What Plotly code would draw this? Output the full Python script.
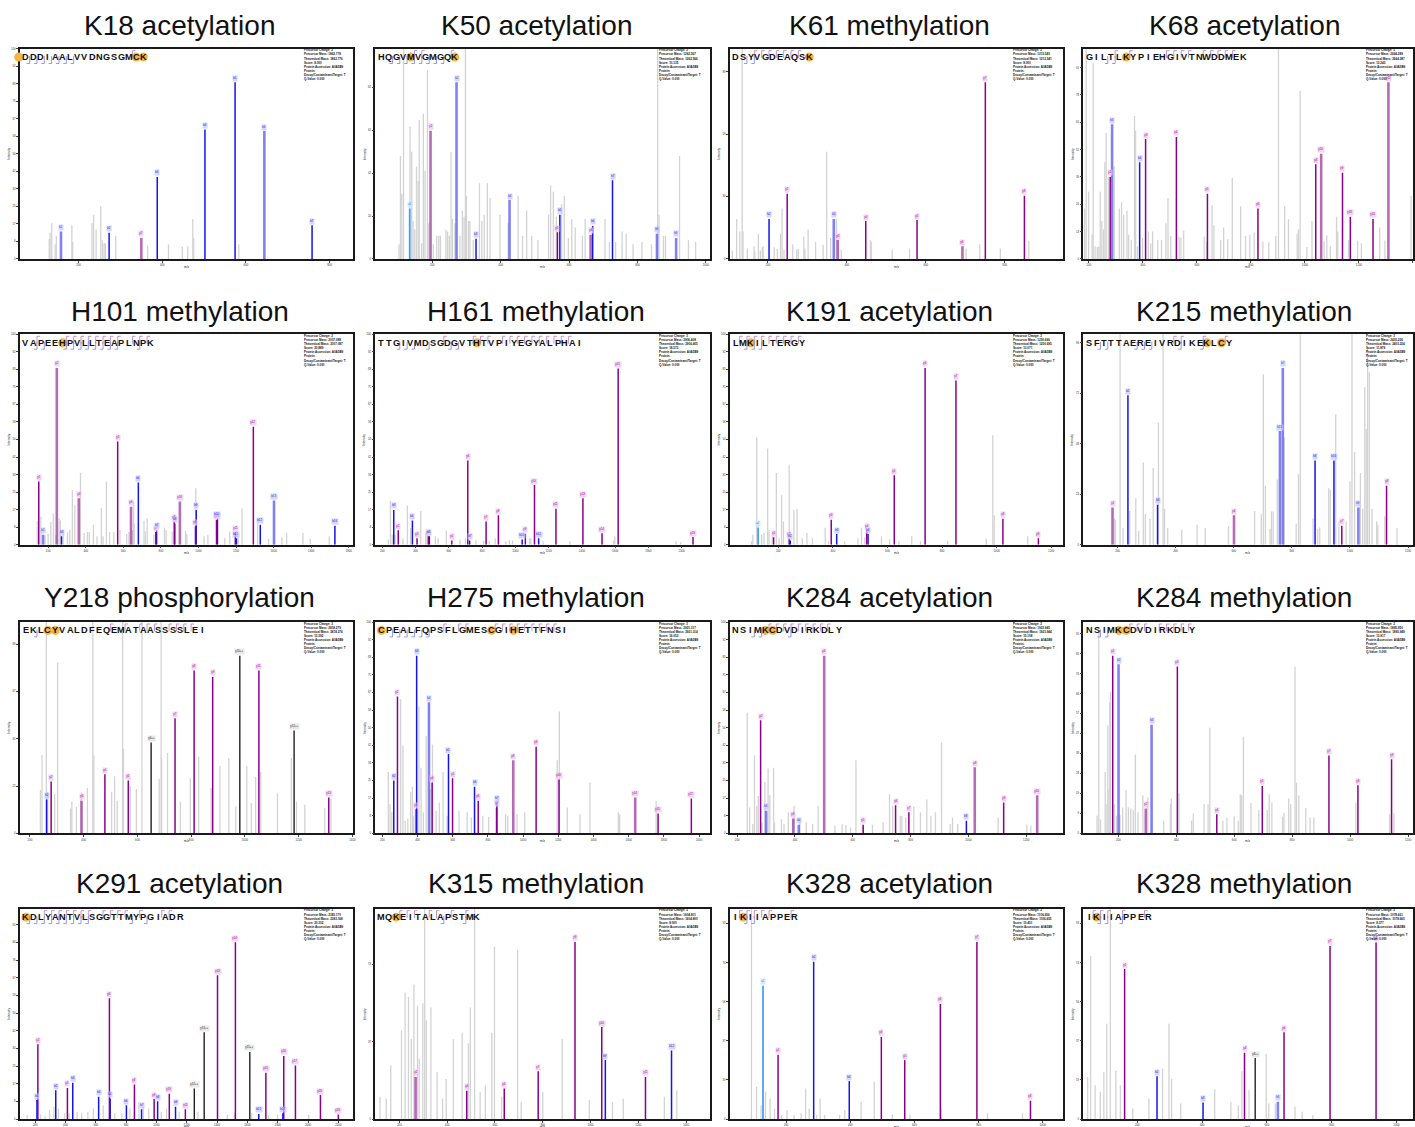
import re
import plotly.graph_objects as go

W, H = 1415, 1127

# ---------------- data ----------------
titles = ["K18 acetylation", "K50 acetylation", "K61 methylation", "K68 acetylation",
          "H101 methylation", "H161 methylation", "K191 acetylation", "K215 methylation",
          "Y218 phosphorylation", "H275 methylation", "K284 acetylation", "K284 methylation",
          "K291 acetylation", "K315 methylation", "K328 acetylation", "K328 methylation"]
peptides = ["DDDIAALVVDNGSGMCK", "HQGVMVGMGQK", "DSYVGDEAQSK", "GILTLKYPIEHGIVTNWDDMEK",
            "VAPEEHPVLLTEAPLNPK", "TTGIVMDSGDGVTHTVPIYEGYALPHAI", "LMKILTERGY", "SFTTTAEREIVRDIKEKLCY",
            "EKLCYVALDFEQEMATAASSSSLEI", "CPEALFQPSFLGMESCGIHETTFNSI", "NSIMKCDVDIRKDLY", "NSIMKCDVDIRKDLY",
            "KDLYANTVLSGGTTMYPGIADR", "MQKEITALAPSTMK", "IKIIAPPER", "IKIIAPPER"]
mod_sites = [[-1, 15, 16], [4, 10], [10], [5], [5], [13], [2], [16, 18],
             [3, 4], [0, 15, 18], [4, 5], [4, 5], [0], [2], [1], [1]]
mz_ranges = [[60, 857], [34, 1012], [104, 949], [180, 1400], [50, 1825], [159, 2170], [23, 1245], [83, 1217],
             [163, 1404], [161, 2062], [175, 1329], [80, 1217], [100, 2300], [100, 1500], [25, 1065], [34, 1051]]
int_dticks = [8.333, 20.4, 29.7, 13, 8.333, 8.333, 8.333, 24, 22.37, 8.333, 8.333, 9.45, 8.4, 36.8, 18.6, 18.6]

prec_charge = [2, 2, 2, 3, 2, 3, 2, 3, 3, 3, 2, 2, 3, 2, 2, 2]
prec_mass = ["1862.778", "1262.567", "1213.540", "2664.289", "2007.088", "2906.408", "1250.696", "2403.226",
             "2818.279", "2921.317", "1923.945", "1895.950", "2383.170", "1604.801", "1106.656", "1078.661"]
theo_mass = ["1862.776", "1262.566", "1213.541", "2664.287", "2007.087", "2906.405", "1250.695", "2403.224",
             "2818.276", "2921.314", "1923.944", "1895.949", "2383.168", "1604.800", "1106.655", "1078.660"]
scores = ["8.000", "10.135", "8.000", "13.245", "20.889", "18.572", "13.071", "11.879",
          "13.392", "16.053", "15.108", "13.917", "20.302", "8.000", "10.451", "8.377"]

# grey (unassigned) peaks and annotated fragment ions, m/z and relative intensity (%)
p01_grey_mz = [130, 132, 136, 144, 147, 184, 186, 232, 236, 242, 253, 257, 261, 264, 289, 365, 415, 448, 461, 473, 475, 583]
p01_grey_int = [9.6, 12.5, 17, 7, 11, 16, 8, 17, 21, 14, 25, 9, 7.5, 7.5, 11, 6.4, 7, 5.8, 6, 19, 10, 7]
p01_ion_mz = [158, 273, 350, 388, 502, 574, 644, 758]
p01_ion_int = [13, 12.5, 10, 39, 61.6, 84, 60.8, 16]
p01_ion_lab = ["b1*", "b2", "y2*", "b3", "b4", "b5", "b6*", "b7"]

p02_grey_mz = [103, 107, 111, 116, 135, 140, 144, 149, 154, 159, 162, 169, 174, 179, 186, 190, 203, 213, 219, 224,
               240, 245, 250, 255, 259, 266, 281, 288, 293, 297, 300, 306, 310, 320, 338, 345, 352, 361, 369, 398,
               422, 451, 464, 476, 491, 509, 540, 546, 554, 563, 578, 586, 598, 608, 618, 639, 647, 705, 718, 736,
               755, 767, 787, 813, 841, 859, 863, 876, 882, 923, 949, 970]
p02_grey_int = [7, 49, 31, 120, 63, 51, 18, 14, 44, 37, 66, 7.5, 69, 42, 90, 17, 7, 11, 11, 11,
                14, 13, 11, 51, 19, 17, 11, 23, 20, 120, 30, 18, 18, 9, 36, 18, 21, 36, 29, 21,
                17, 30, 11, 23, 11, 9, 21, 35, 32, 20, 26, 30, 10, 19, 15, 11, 19, 19, 8, 8,
                13, 12, 7, 8, 7, 120, 21, 11, 11, 49, 9, 8]
p02_ion_mz = [134, 195, 271, 328, 426, 566, 573, 663, 669, 727, 857, 913]
p02_ion_int = [24, 61, 84, 9.6, 28, 12.7, 21, 11.5, 15.7, 37.4, 12, 10]
p02_ion_lab = ["a1", "y1*", "b2*", "b3", "b4*", "y5", "b5", "y6*", "b6", "b7", "b8*", "b9*"]

p03_grey_mz = [110, 121, 129, 135, 137, 148, 165, 167, 176, 181, 186, 188, 216, 224, 232, 236, 241, 263, 273, 277,
               291, 294, 302, 321, 340, 349, 359, 374, 386, 460, 462, 515, 559, 702, 737, 789, 861]
p03_grey_int = [4, 19, 13, 120, 13, 5, 6, 3.5, 12, 4, 5.7, 6, 5.5, 4.7, 12, 24, 4.4, 7, 4.4, 4.7,
                10.7, 5, 14, 8, 6.8, 51, 10, 19, 4.4, 9, 8, 4.4, 5, 5, 7, 5, 8.5]
p03_ion_mz = [203, 249, 367, 377, 448, 578, 693, 751, 850]
p03_ion_int = [19, 31, 19, 9, 18, 18.5, 6, 84, 30]
p03_ion_lab = ["b2", "y2", "b3*", "y3*", "y4", "y5", "y6*", "y7", "y8"]

p04_grey_mz = [184, 190, 199, 212, 216, 223, 231, 237, 242, 248, 254, 259, 264, 272, 294, 313, 321, 329, 341, 347,
               357, 369, 373, 380, 399, 420, 429, 436, 455, 469, 485, 493, 503, 534, 541, 551, 627, 636, 656, 663,
               688, 699, 714, 731, 762, 780, 796, 812, 844, 866, 892, 902, 925, 939, 971, 976, 982, 1007, 1026,
               1071, 1081, 1094, 1117, 1121, 1161, 1195, 1209, 1277, 1296, 1393]
p04_grey_int = [24, 120, 32, 11.5, 93, 6, 5.7, 6, 32, 18, 14, 46, 60, 39, 44, 24, 27, 21, 23, 11.5,
                9, 68, 61, 6, 10, 13, 7.5, 13, 9, 9, 17, 29, 11, 10.5, 10, 13.5, 10.7, 8.3, 25.5, 16,
                9, 15, 9.4, 38.5, 25, 11, 11.5, 12.6, 8.3, 7.9, 11, 120, 25, 19, 12, 14, 80, 5.7, 18,
                8.3, 11.3, 6, 20, 13, 9, 8.7, 7.5, 15, 8.8, 30]
p04_ion_mz = [279, 286, 388, 410, 524, 639, 826, 1040, 1060, 1139, 1168, 1252, 1309]
p04_ion_int = [39, 64, 46, 57, 58, 31, 24, 45, 50, 41, 20, 19, 84]
p04_ion_lab = ["y2", "b3*", "b4", "y3", "y4", "y5", "y6", "y8", "y16*", "y9", "y18", "y10", "y11*"]

p05_grey_mz = [142, 161, 184, 200, 214, 228, 241, 258, 265, 280, 303, 315, 329, 342, 372, 391, 409, 419, 441, 460,
               483, 492, 510, 527, 549, 582, 618, 630, 648, 655, 658, 710, 717, 727, 763, 819, 828, 860, 931, 938,
               986, 1030, 1050, 1140, 1166, 1212, 1232, 1315, 1373, 1444, 1469, 1556, 1595, 1696]
p05_grey_int = [11.3, 13.4, 4.4, 5, 10.7, 14.8, 4.4, 12.6, 11.5, 4.7, 6, 7, 26, 18.6, 34, 5.5, 6, 6, 9.4, 4,
                17.3, 4, 30, 6, 6, 7, 5, 6, 7, 20.5, 10, 11.3, 6.3, 12.6, 4.7, 8, 6.9, 6.3, 6.6, 5.2,
                26.8, 4, 4.7, 3, 6.3, 4, 17.3, 10.2, 2.8, 3.5, 5.5, 5.5, 2.8, 4]
p05_ion_mz = [150, 173, 246, 271, 363, 570, 641, 680, 773, 777, 871, 874, 901, 984, 988, 1096, 1101, 1196, 1202,
              1292, 1329, 1402, 1726]
p05_ion_int = [30, 4.7, 84, 4, 22, 49, 18, 29.5, 6, 7, 11, 10, 20.5, 8.7, 16.5, 11.7, 12.3, 6, 3, 56, 9.4, 21, 9]
p05_ion_lab = ["y1", "b2*", "y2*", "b3", "y3*", "y5", "y6*", "b6", "y7", "b7", "y8", "b8", "y16*", "y9", "b9",
               "y10", "b10", "y11", "b11", "y12", "b12", "b13*", "b16"]

p06_grey_mz = [236, 249, 260, 277, 324, 351, 370, 431, 461, 469, 519, 535, 585, 667, 700, 763, 810, 843, 879, 942,
               964, 983, 1085, 1093, 1167, 1329, 1590, 1598, 1966, 1994]
p06_grey_int = [2.4, 20.8, 4.7, 4.7, 3, 18.6, 7.9, 16, 5.5, 6, 4, 3, 6.6, 2.4, 3, 2, 1.9, 1.6, 3, 1.6,
                2.2, 2, 3, 3, 1.6, 1.6, 2, 4, 1.6, 1.3]
p06_ion_mz = [269, 296, 381, 409, 477, 483, 618, 714, 725, 824, 898, 1041, 1060, 1115, 1140, 1244, 1406, 1521,
              1618, 2068]
p06_ion_int = [16.5, 6.8, 11.5, 3, 4, 4, 2, 40, 2, 11, 14, 2.4, 5.2, 28.3, 3, 17, 22, 5.4, 83.8, 3.6]
p06_ion_lab = ["b3", "y2", "b4", "y3", "y4", "b5", "y5", "y6", "b7", "y7", "y8", "b10", "y9", "y10", "b11",
               "y11", "y13", "y14", "y15", "y19"]

p07_grey_mz = [102, 107, 121, 127, 139, 148, 161, 166, 178, 193, 203, 212, 219, 240, 257, 269, 288, 305, 325, 372,
               384, 443, 492, 505, 517, 578, 608, 642, 689, 721, 821, 962, 986, 991, 1114]
p07_grey_int = [1.6, 4.7, 51, 10, 4.7, 5.5, 45.7, 7, 4, 34, 3, 23.6, 11, 38, 16.5, 17, 3, 5.5, 3, 8,
                1.6, 1.6, 3, 8, 3.5, 4, 2.4, 1.6, 4, 1.6, 1.9, 2.8, 52, 14, 4]
p07_ion_mz = [126, 183, 240, 244, 394, 414, 524, 529, 625, 738, 851, 1023, 1153]
p07_ion_int = [8, 3.5, 2.8, 2, 11.8, 5, 6.6, 5, 33, 84, 78, 12.3, 3]
p07_ion_lab = ["a1", "y1", "y2", "b2", "y3", "b3", "y4", "b4", "y5", "y6", "y7", "y8", "y9"]

p08_grey_mz = [189, 193, 209, 219, 242, 263, 273, 289, 296, 312, 323, 341, 357, 362, 373, 421, 474, 502, 582, 672,
               695, 702, 709, 725, 730, 736, 750, 774, 815, 823, 829, 873, 889, 896, 927, 932, 951, 962, 987, 1000,
               1007, 1016, 1036, 1044, 1051, 1056, 1061, 1067, 1076, 1092, 1096, 1120, 1162]
p08_grey_int = [12.6, 11.8, 120, 7.9, 16, 22, 6.6, 39, 14.6, 12.4, 36.5, 58, 120, 17, 7.9, 7.1, 9.4, 7.9, 8.7, 16,
                14.5, 81, 28, 7.4, 15.7, 15.7, 31, 51, 10, 33.5, 120, 12.4, 7.6, 8.2, 26.8, 26, 62, 11, 11, 30,
                120, 44, 34, 17, 75, 55, 93, 82, 17, 11, 9.4, 13.5, 7.9]
p08_ion_mz = [183, 236, 338, 601, 759, 769, 880, 945, 972, 1029, 1126]
p08_ion_int = [17.6, 71, 19, 14, 54, 84, 40, 40, 9, 17.6, 28]
p08_ion_lab = ["y1*", "b2", "b3", "y4*", "b13*", "b7*", "b8", "b16", "y7", "b9*", "y8"]

p09_grey_mz = [239, 245, 261, 266, 292, 303, 351, 356, 373, 391, 414, 434, 438, 504, 515, 525, 545, 548, 574, 596,
               617, 681, 688, 690, 712, 760, 797, 828, 874, 907, 940, 966, 1007, 1024, 1040, 1059, 1121, 1173,
               1192, 1223, 1297, 1320]
p09_grey_int = [20.5, 37, 120, 19.6, 18.5, 80.7, 11.8, 14.9, 12.4, 19.3, 21.5, 120, 36.8, 19.7, 27, 15.3, 120, 40,
                22.4, 21, 120, 25.8, 120, 35.7, 38, 15, 26, 36.2, 21.5, 31.8, 35.7, 12.7, 31.8, 14.3, 26.7, 29,
                19, 35.7, 15, 13.5, 12, 16.5]
p09_ion_mz = [262, 279, 392, 479, 566, 651, 740, 811, 880, 981, 1052, 1183, 1312]
p09_ion_int = [16, 24.5, 15.4, 28, 25, 43, 54.5, 77, 74, 84, 77, 48.6, 17]
p09_ion_lab = ["b2", "y2", "y3*", "y4", "y5", "y6++", "y7", "y8", "y9", "y10++", "y11", "y12++", "y13"]

p10_grey_mz = [234, 244, 254, 304, 317, 330, 345, 361, 371, 376, 408, 420, 433, 449, 472, 485, 506, 524, 545, 568,
               636, 682, 706, 771, 804, 900, 913, 965, 1009, 1194, 1206, 1251, 1323, 1380, 1541, 1549, 1756]
p10_grey_int = [29, 13.8, 10, 63.5, 41.4, 6, 7, 19.6, 22, 8.3, 60, 31, 10, 46, 20.8, 42, 10.7, 14.6, 29, 8.3,
                10.7, 10, 7.5, 8.3, 7.7, 9, 8.3, 9, 10, 34.6, 57.7, 12.2, 9, 24, 10, 9, 15.3]
p10_ion_mz = [265, 286, 392, 395, 465, 483, 576, 599, 724, 745, 849, 851, 944, 1074, 1204, 1637, 1767, 1956]
p10_ion_int = [25, 64.7, 11.4, 84, 62, 24, 37.5, 26, 22, 15.4, 12, 14.6, 34.6, 41, 25.5, 17, 9.4, 16.5]
p10_ion_lab = ["b2", "y2", "y3*", "b3", "b4*", "y4", "b5", "y5", "b6", "y6", "y7", "b7", "y8*", "y9", "y10",
               "y14*", "y15", "y17"]

p11_grey_mz = [235, 243, 254, 260, 268, 273, 286, 296, 307, 313, 326, 329, 353, 362, 377, 397, 417, 439, 461, 480,
               538, 563, 576, 592, 611, 633, 668, 705, 727, 738, 764, 770, 783, 811, 834, 856, 870, 886, 907, 937,
               945, 963, 1103, 1202, 1216]
p11_grey_int = [57, 12.2, 4.4, 37, 13, 17.7, 5.2, 24.3, 30.7, 18, 31, 5.2, 6.7, 4.4, 10, 13, 6.4, 5.2, 4.4, 13,
                3.6, 4.4, 3.9, 2.8, 34.6, 3.6, 4, 5.2, 18.5, 13, 8.3, 8.3, 7.5, 12.7, 10, 16, 8.3, 10, 43, 4.4,
                7.5, 4.4, 7.5, 4, 3.6]
p11_ion_mz = [281, 300, 394, 413, 501, 636, 748, 794, 993, 1022, 1122, 1238]
p11_ion_int = [53.5, 10.7, 7, 4, 84, 4, 13.3, 10, 6, 31.3, 14.6, 18]
p11_ion_lab = ["y2", "b3*", "y3*", "b4*", "y4*", "y5", "y6", "y7", "b8", "y8*", "y9", "y10*"]

p12_grey_mz = [127, 133, 139, 155, 158, 164, 168, 171, 173, 187, 194, 206, 215, 227, 235, 243, 252, 259, 268, 285,
               302, 357, 380, 383, 410, 453, 459, 496, 510, 516, 561, 575, 600, 614, 621, 626, 632, 658, 685, 714,
               721, 730, 767, 772, 788, 795, 810, 815, 823, 847, 862, 875, 1020, 1136, 1151]
p12_grey_int = [8.3, 96, 6.5, 29, 13.8, 51, 21, 62, 67, 13.8, 8.3, 8.6, 12.2, 20.5, 12.2, 11.8, 11, 37.3, 10, 18,
                16.9, 6, 13.8, 16.5, 18.8, 6, 9.4, 13.8, 13.8, 50, 6, 7.5, 8, 6, 18.5, 18, 45.6, 14.3, 11, 11,
                18.5, 14.6, 7.8, 9.6, 16.5, 13.8, 78.8, 24, 18, 12, 7.5, 7.5, 14.6, 9, 9.4]
p12_ion_mz = [181, 201, 295, 315, 404, 540, 697, 927, 1027, 1143]
p12_ion_int = [84, 80, 11.8, 51.4, 79, 9, 22.4, 36.8, 22.7, 35]
p12_ion_lab = ["y1", "b2*", "y2*", "b3*", "y3", "y4", "y5", "y7", "y8", "y9"]

p13_grey_mz = [147, 236, 265, 295, 324, 354, 395, 424, 477, 507, 548, 584, 649, 725, 772, 825, 884, 914, 949, 1032,
               1067, 1150, 1274, 1468, 1515, 1628, 1740, 1799, 2005]
p13_grey_int = [1.9, 2.2, 1.6, 4.3, 5.8, 5, 2.7, 2.7, 3.5, 2.7, 3.5, 5, 6.6, 2.7, 2.7, 5, 8.2, 5.8, 5, 3.5,
                5, 3.5, 3.5, 2.2, 2.7, 2.7, 1.9, 2.2, 2.2]
p13_ion_mz = [212, 218, 336, 413, 448, 619, 690, 695, 802, 855, 902, 985, 1008, 1085, 1126, 1191, 1250, 1315, 1403,
              1521, 1616, 1675, 1722, 1834, 1840, 1917, 2082, 2200]
p13_ion_int = [9, 35.5, 13.7, 14.8, 17.2, 10.6, 57.4, 9.8, 6.6, 16.4, 4.6, 9.5, 8.5, 12, 5.8, 4.6, 14.5, 41.3,
               68.4, 84, 31.9, 2.4, 22, 2.7, 30, 25.5, 11.4, 2.2]
p13_ion_lab = ["b1", "y2", "b2", "y3", "b3", "b4", "y6", "b5", "b6", "y8", "b7", "y9", "b8", "y10", "b9", "y11",
               "y12++", "y13++", "y13", "y14", "y15++", "b15", "y15", "b17", "y16", "y17", "y18", "y19"]

p14_grey_mz = [119, 145, 164, 209, 224, 238, 250, 261, 276, 283, 298, 306, 313, 332, 358, 381, 396, 426, 463, 489,
               497, 515, 538, 560, 587, 598, 628, 695, 710, 800, 882, 995, 1092, 1137, 1309, 1361]
p14_grey_int = [10.6, 9.8, 25.5, 42, 60, 58, 38, 64, 54, 28.7, 55, 120, 47, 53, 22.4, 9.8, 19, 38, 41, 36,
                53, 120, 13, 16, 41, 82, 10.6, 80.5, 8.2, 13, 38, 9, 8.2, 9.8, 10.6, 13.7]
p14_ion_mz = [268, 482, 639, 781, 935, 1047, 1062, 1230, 1339]
p14_ion_int = [20, 13.4, 14.5, 22.7, 84.2, 43.7, 28, 20, 32.6]
p14_ion_lab = ["y2*", "y4", "y6", "y7", "y9", "y10", "b9", "y11", "b12"]

p15_grey_mz = [92, 108, 122, 136, 150, 164, 186, 203, 225, 247, 261, 272, 295, 306, 320, 367, 383, 434, 475, 531,
               586, 684, 828, 937]
p15_grey_int = [120, 15.3, 6.6, 13, 9.8, 5, 1.9, 4.3, 1.9, 2.7, 14.5, 5, 1.9, 9.8, 1.9, 1.9, 4.3, 8.2, 17.7, 2.2,
                2.2, 5, 2.7, 2.7]
p15_ion_mz = [128, 175, 286, 397, 497, 570, 681, 795, 962]
p15_ion_int = [63.4, 30.6, 74.8, 18, 39, 28, 54.7, 84.2, 8.7]
p15_ion_lab = ["a1", "y1", "b2", "b3", "y4", "y5", "y6", "y7", "y8"]

p16_grey_mz = [47, 56, 70, 86, 97, 106, 117, 134, 148, 186, 236, 278, 298, 306, 334, 439, 489, 512, 523, 545,
               598, 606, 626, 687, 709, 742]
p16_grey_int = [20, 77.6, 16, 13, 22.4, 45.3, 120, 23, 16, 5, 9.8, 24, 45.3, 19.2, 7.4, 14.2, 8.2, 6.6, 22.7, 13.7,
                31, 7.4, 7.4, 5.8, 3.5, 1.9]
p16_ion_mz = [161, 261, 403, 531, 564, 634, 653, 795, 937]
p16_ion_int = [71.3, 20.3, 7.9, 31.5, 29, 8.2, 41.3, 82.3, 83.9]
p16_ion_lab = ["y1", "b2", "b3", "y4", "y8++", "b5*", "y6", "y7", "y8"]

grey_mz = [p01_grey_mz, p02_grey_mz, p03_grey_mz, p04_grey_mz, p05_grey_mz, p06_grey_mz, p07_grey_mz, p08_grey_mz,
           p09_grey_mz, p10_grey_mz, p11_grey_mz, p12_grey_mz, p13_grey_mz, p14_grey_mz, p15_grey_mz, p16_grey_mz]
grey_int = [p01_grey_int, p02_grey_int, p03_grey_int, p04_grey_int, p05_grey_int, p06_grey_int, p07_grey_int,
            p08_grey_int, p09_grey_int, p10_grey_int, p11_grey_int, p12_grey_int, p13_grey_int, p14_grey_int,
            p15_grey_int, p16_grey_int]
ion_mz = [p01_ion_mz, p02_ion_mz, p03_ion_mz, p04_ion_mz, p05_ion_mz, p06_ion_mz, p07_ion_mz, p08_ion_mz,
          p09_ion_mz, p10_ion_mz, p11_ion_mz, p12_ion_mz, p13_ion_mz, p14_ion_mz, p15_ion_mz, p16_ion_mz]
ion_int = [p01_ion_int, p02_ion_int, p03_ion_int, p04_ion_int, p05_ion_int, p06_ion_int, p07_ion_int, p08_ion_int,
           p09_ion_int, p10_ion_int, p11_ion_int, p12_ion_int, p13_ion_int, p14_ion_int, p15_ion_int, p16_ion_int]
ion_lab = [p01_ion_lab, p02_ion_lab, p03_ion_lab, p04_ion_lab, p05_ion_lab, p06_ion_lab, p07_ion_lab, p08_ion_lab,
           p09_ion_lab, p10_ion_lab, p11_ion_lab, p12_ion_lab, p13_ion_lab, p14_ion_lab, p15_ion_lab, p16_ion_lab]

# ---------------- layout constants (pixels) ----------------
COL_X0 = [20, 376, 731, 1085]
COL_X1 = [354, 711, 1065, 1415]
ROW_Y0 = [47, 335, 625, 914]
ROW_Y1 = [259, 547, 838, 1126]
TITLE_CX = [180, 537, 891, 1246]
TITLE_CY = [24, 312, 600, 889]
INFO_X = [302, 658, 1012, 1366]
LET_DX = 7.35
FONT = "Liberation Sans, Arial, sans-serif"

STYLE = {
    "b": dict(color="#1414ee", width=1.5, bg="rgba(200,200,255,0.75)", txt="#1414ee"),
    "bl": dict(color="rgba(80,80,238,0.72)", width=2.6, bg="rgba(200,200,255,0.75)", txt="#3030ee"),
    "y": dict(color="#8b008b", width=1.5, bg="rgba(240,200,240,0.75)", txt="#8b008b"),
    "yl": dict(color="rgba(155,50,155,0.72)", width=2.6, bg="rgba(240,200,240,0.75)", txt="#8b008b"),
    "c": dict(color="#3d9df5", width=1.7, bg="rgba(200,230,255,0.75)", txt="#2a7fd0"),
    "d": dict(color="#222222", width=1.4, bg="rgba(225,225,225,0.75)", txt="#222222"),
}


def style_of(lab):
    if "++" in lab:
        return "d"
    if lab[0] in "ac":
        return "c"
    if lab[0] == "b":
        return "bl" if "*" in lab else "b"
    return "yl" if "*" in lab else "y"


def px(x):
    return x / W


def py(y):
    return 1 - y / H


fig = go.Figure()
annotations = []
shapes = []
layout_axes = {}

for k in range(16):
    r, c = divmod(k, 4)
    x0, x1, y0, y1 = COL_X0[c], COL_X1[c], ROW_Y0[r], ROW_Y1[r]
    sfx = "" if k == 0 else str(k + 1)
    xa, ya = "x" + sfx, "y" + sfx

    # grey peaks
    xs, ys = [], []
    for m, v in zip(grey_mz[k], grey_int[k]):
        xs += [m, m, None]
        ys += [0, v, None]
    fig.add_trace(go.Scatter(x=xs, y=ys, mode="lines", line=dict(color="#d3d3d3", width=1.3),
                             hoverinfo="skip", showlegend=False, xaxis=xa, yaxis=ya))

    # annotated ions, grouped by style
    for st in ["bl", "yl", "c", "b", "y", "d"]:
        xs, ys = [], []
        for m, v, lab in zip(ion_mz[k], ion_int[k], ion_lab[k]):
            if style_of(lab) == st:
                xs += [m, m, None]
                ys += [0, v, None]
        if xs:
            fig.add_trace(go.Scatter(x=xs, y=ys, mode="lines",
                                     line=dict(color=STYLE[st]["color"], width=STYLE[st]["width"]),
                                     hoverinfo="skip", showlegend=False, xaxis=xa, yaxis=ya))
    for m, v, lab in zip(ion_mz[k], ion_int[k], ion_lab[k]):
        s = STYLE[style_of(lab)]
        annotations.append(dict(x=m, y=v, xref=xa, yref=ya, text=lab.replace("*", ""), showarrow=False,
                                yanchor="bottom", xanchor="center", font=dict(size=2.8, color=s["txt"], family=FONT),
                                bgcolor=s["bg"], borderpad=0.3, yshift=0.5))

    axis_common = dict(showline=True, mirror=True, linecolor="#1a1a1a", linewidth=1.7, ticks="outside",
                       ticklen=2, tickwidth=0.5, tickcolor="#444", tickfont=dict(size=2.8, color="#333", family=FONT),
                       showgrid=False, zeroline=False, fixedrange=True)
    layout_axes["xaxis" + sfx] = dict(axis_common, domain=[px(x0), px(x1)], range=mz_ranges[k], dtick=200, tick0=0,
                                      anchor=ya)
    layout_axes["yaxis" + sfx] = dict(axis_common, domain=[py(y1), py(y0)], range=[0, 100], dtick=int_dticks[k],
                                      tick0=0, tickformat=".0f", anchor=xa)

    # panel title
    annotations.append(dict(x=px(TITLE_CX[c]), y=py(TITLE_CY[r]), xref="paper", yref="paper", text=titles[k],
                            showarrow=False, xanchor="center", yanchor="middle",
                            font=dict(size=28, color="#111111", family=FONT)))
    # axis titles
    annotations.append(dict(x=px((x0 + x1) / 2), y=py(y1 + 8), xref="paper", yref="paper", text="m/z",
                            showarrow=False, xanchor="center", yanchor="middle",
                            font=dict(size=3.2, color="#222", family=FONT)))
    annotations.append(dict(x=px(x0 - 11), y=py((y0 + y1) / 2), xref="paper", yref="paper", text="Intensity",
                            showarrow=False, xanchor="center", yanchor="middle", textangle=-90,
                            font=dict(size=3.2, color="#222", family=FONT)))

    # info box
    info = [f"Precursor Charge: {prec_charge[k]}", f"Precursor Mass: {prec_mass[k]}",
            f"Theoretical Mass: {theo_mass[k]}", f"Score: {scores[k]}", "Protein Accession: A0A5B9",
            "Protein:", "Decoy/Contaminant/Target: T", "Q-Value: 0.000"]
    for i, line in enumerate(info):
        annotations.append(dict(x=px(INFO_X[c]), y=py(y0 + 1.8 + i * 4.1), xref="paper", yref="paper", text=line,
                                showarrow=False, xanchor="left", yanchor="middle",
                                font=dict(size=3.0, color="#111", family=FONT, weight="bold")))

    # peptide sequence with modification highlights and fragment brackets
    pep = peptides[k]
    L = len(pep)
    cy = y0 + 8.5

    def lx(i):
        return x0 + 6 + i * LET_DX

    for site in mod_sites[k]:
        cx = lx(site)
        shapes.append(dict(type="circle", xref="paper", yref="paper", x0=px(cx - 4.5), x1=px(cx + 4.5),
                           y0=py(cy + 4.5), y1=py(cy - 4.5), fillcolor="#f6b443", line=dict(width=0)))
    for i, ch in enumerate(pep):
        annotations.append(dict(x=px(lx(i)), y=py(cy), xref="paper", yref="paper", text=ch, showarrow=False,
                                xanchor="center", yanchor="middle",
                                font=dict(size=9.2, color="#111111", family=FONT, weight="bold")))
    seen = set()
    for lab in ion_lab[k]:
        if "++" in lab or lab[0] not in "by":
            continue
        n = int(re.search(r"\d+", lab).group())
        if not (1 <= n < L) or (lab[0], n) in seen:
            continue
        seen.add((lab[0], n))
        if lab[0] == "b":
            gx = lx(n - 1) + LET_DX / 2
            path = f"M {px(gx)},{py(cy - 1)} L {px(gx)},{py(cy + 6.5)} L {px(gx - 3)},{py(cy + 6.5)}"
            col = "#7b7be8"
        else:
            gx = lx(L - n - 1) + LET_DX / 2
            path = f"M {px(gx)},{py(cy + 1)} L {px(gx)},{py(cy - 6.5)} L {px(gx + 3)},{py(cy - 6.5)}"
            col = "#b77ab7"
        shapes.append(dict(type="path", xref="paper", yref="paper", path=path, line=dict(color=col, width=0.8)))

fig.update_layout(width=W, height=H, margin=dict(l=0, r=0, t=0, b=0), paper_bgcolor="white",
                  plot_bgcolor="rgba(0,0,0,0)", showlegend=False, annotations=annotations, shapes=shapes,
                  **layout_axes)
fig.write_html("out.html")
